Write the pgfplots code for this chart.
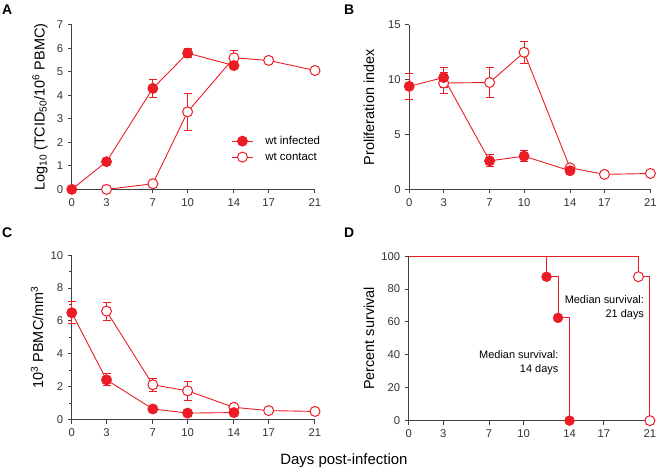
\documentclass[border=0pt]{standalone}
\usepackage{fontspec}
\setmainfont{Liberation Sans}
\usepackage{pgfplots}
\pgfplotsset{compat=1.18}
\definecolor{pr}{RGB}{236,28,36}
\definecolor{ax}{RGB}{64,64,64}
\pgfplotsset{
 panel/.style={
  scale only axis, width=244pt, height=165pt,
  axis lines=left, axis line style={ax, line width=1.1pt, -},
  tick style={ax, line width=1pt},
  tick align=outside, major tick length=4pt, minor tick length=2.5pt,
  xmin=0, xmax=21, xtick={0,3,7,10,14,17,21},
  clip=false,
  /pgf/number format/assume math mode=true,
  tick label style={font=\fontsize{11.3}{13}\selectfont, text=black!80},
  xticklabel style={yshift=-1.5pt},
  yticklabel style={xshift=-1pt},
  label style={font=\fontsize{14.5}{16}\selectfont},
  anchor=south west,
 },
 inf/.style={color=pr, line width=0.9pt, mark=*, mark size=5pt,
   mark options={fill=pr, draw=pr, solid},
   error bars/.cd, y dir=both, y explicit,
   error bar style={color=pr, draw=pr, line width=0.9pt},
   error mark options={rotate=90, mark size=4pt, color=pr, draw=pr, line width=0.9pt}},
 con/.style={color=pr, line width=0.9pt, mark=*, mark size=5pt,
   mark options={fill=white, draw=pr, solid, line width=1pt},
   error bars/.cd, y dir=both, y explicit,
   error bar style={color=pr, draw=pr, line width=0.9pt},
   error mark options={rotate=90, mark size=4pt, color=pr, draw=pr, line width=0.9pt}},
}
\begin{document}
\begin{tikzpicture}
\path (0pt,0pt) rectangle (660pt,472pt);
% Panel A
\begin{axis}[panel, at={(72pt,282pt)},
  ymin=0, ymax=7, ytick={0,...,7},
  ylabel={Log\textsubscript{10} (TCID\textsubscript{50}/10\textsuperscript{6} PBMC)},
  ylabel style={at={(axis description cs:-0.131,0.5)}, anchor=center},
  reverse legend,
  legend style={draw=none, fill=none, at={(axis description cs:0.656,0.325)}, anchor=north west,
    font=\fontsize{11.5}{13}\selectfont, row sep=6pt, inner sep=0pt,
    nodes={inner xsep=0pt, inner ysep=0pt},
    /tikz/every odd column/.append style={column sep=12pt}},
  legend cell align=left,
  legend image code/.code={\draw[mark repeat=2,mark phase=2] plot coordinates {(0pt,0pt) (10.5pt,0pt) (21pt,0pt)};},
  ]
\addplot[con] coordinates {(3,0) +- (0,0) (7,0.24) +- (0,0) (10,3.3) +- (0,0.77) (14,5.6) +- (0,0.32) (17,5.49) +- (0,0) (21,5.06) +- (0,0)};
\addlegendentry{wt contact}
\addplot[inf] coordinates {(0,0) +- (0,0) (3,1.18) +- (0,0) (7,4.3) +- (0,0.4) (10,5.8) +- (0,0.18) (14,5.27) +- (0,0)};
\addlegendentry{wt infected}
\end{axis}
% Panel B
\begin{axis}[panel, at={(410.5pt,282pt)}, width=242pt,
  ymin=0, ymax=15, ytick={0,5,10,15},
  ylabel={Proliferation index},
  ylabel style={at={(axis description cs:-0.167,0.5)}, anchor=center},
  ]
\addplot[con] coordinates {(3,9.7) +- (0,0.95) (7,9.75) +- (0,1.35) (10,12.5) +- (0,1.0) (14,1.97) +- (0,0) (17,1.37) +- (0,0) (21,1.45) +- (0,0)};
\addplot[inf] coordinates {(0,9.4) +- (0,1.2) (3,10.2) +- (0,0.9) (7,2.6) +- (0,0.55) (10,3.03) +- (0,0.5) (14,1.7) +- (0,0)};
\end{axis}
% Panel C
\begin{axis}[panel, at={(72pt,51pt)},
  ymin=0, ymax=10, ytick={0,2,...,10}, minor ytick={1,3,...,9},
  ylabel={10\textsuperscript{3} PBMC/mm\textsuperscript{3}},
  ylabel style={at={(axis description cs:-0.143,0.5)}, anchor=center},
  ]
\addplot[con] coordinates {(3,6.6) +- (0,0.54) (7,2.12) +- (0,0.41) (10,1.75) +- (0,0.58) (14,0.75) +- (0,0) (17,0.55) +- (0,0) (21,0.5) +- (0,0)};
\addplot[inf] coordinates {(0,6.5) +- (0,0.68) (3,2.42) +- (0,0.37) (7,0.65) +- (0,0) (10,0.4) +- (0,0) (14,0.43) +- (0,0)};
\end{axis}
% Panel D
\begin{axis}[panel, at={(410pt,50pt)}, width=242pt,
  ymin=0, ymax=100, ytick={0,20,...,100},
  ylabel={Percent survival},
  ylabel style={at={(axis description cs:-0.165,0.5)}, anchor=center},
  ]
\addplot[pr, line width=0.9pt, const plot, no marks] coordinates {(0,100) (20,87.5) (21,0)};
\addplot[pr, line width=0.9pt, const plot, no marks] coordinates {(0,100) (12,87.5) (13,62.5) (14,0)};
\addplot[pr, only marks, mark=*, mark size=5pt, mark options={fill=white, draw=pr, line width=1pt}] coordinates {(20,87.5) (21,0)};
\addplot[pr, only marks, mark=*, mark size=5pt, mark options={fill=pr, draw=pr}] coordinates {(12,87.5) (13,62.5) (14,0)};
\node[anchor=north east, align=right, inner sep=0pt, font=\fontsize{11}{14}\selectfont] at (axis cs:13.05,43) {Median survival:\\14 days};
\node[anchor=north east, align=right, inner sep=0pt, font=\fontsize{11}{14}\selectfont] at (axis cs:20.5,76) {Median survival:\\21 days};
\end{axis}
% panel letters and shared label
\node[anchor=base west, inner sep=0pt, font=\fontsize{14}{16}\selectfont\bfseries] at (2pt,457pt) {A};
\node[anchor=base west, inner sep=0pt, font=\fontsize{14}{16}\selectfont\bfseries] at (345pt,457pt) {B};
\node[anchor=base west, inner sep=0pt, font=\fontsize{14}{16}\selectfont\bfseries] at (2pt,234pt) {C};
\node[anchor=base west, inner sep=0pt, font=\fontsize{14}{16}\selectfont\bfseries] at (345pt,234pt) {D};
\node[anchor=base, inner sep=0pt, font=\fontsize{15}{17}\selectfont] at (345pt,6pt) {Days post-infection};
\end{tikzpicture}
\end{document}
